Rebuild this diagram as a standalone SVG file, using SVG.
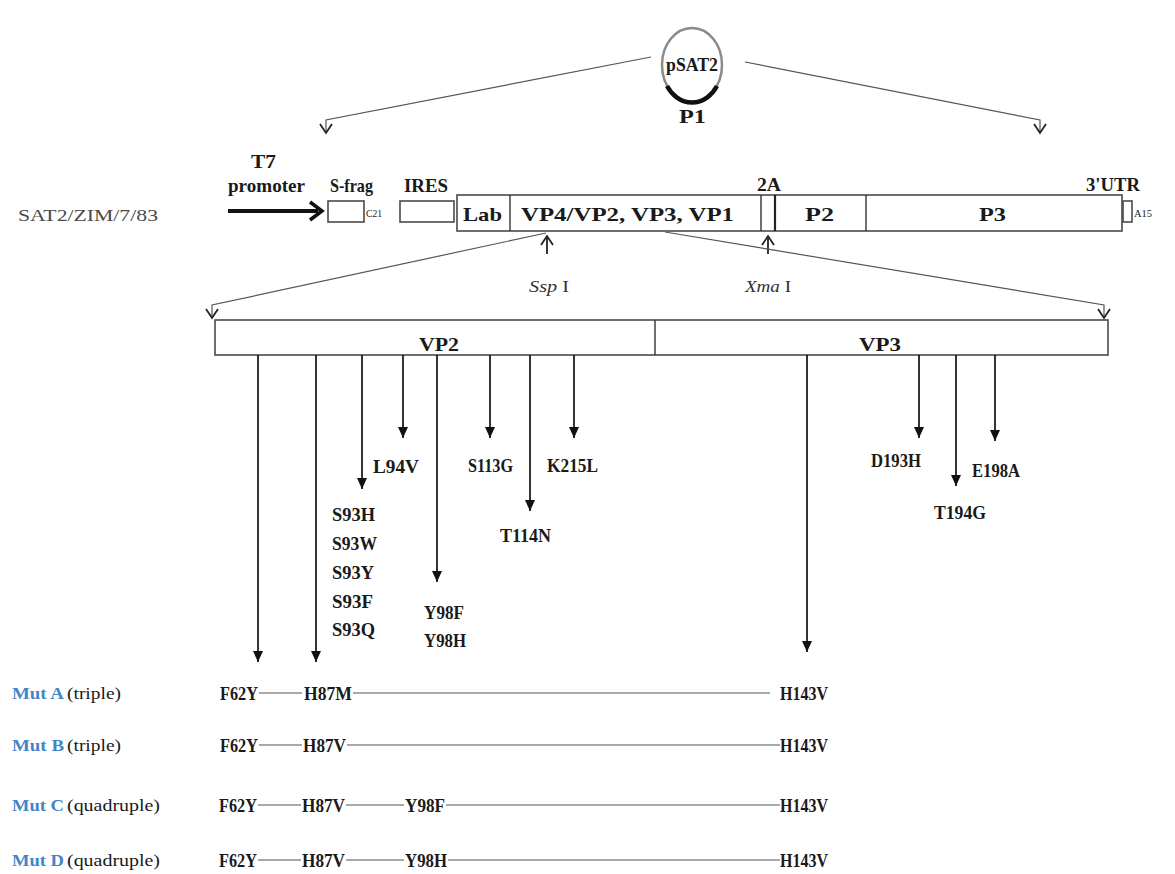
<svg xmlns="http://www.w3.org/2000/svg" width="1175" height="874" viewBox="0 0 1175 874">
<style>
text{font-family:"Liberation Serif","Times New Roman",serif;fill:#1a1a1a}
.b{font-weight:bold;font-size:19px}
.s{font-weight:bold;font-size:18px}
.r{font-size:16px}
.t{font-size:10px}
.m{fill:#4285c8;font-weight:bold;font-size:16px}
.box{fill:#fff;stroke:#4a4a4a;stroke-width:1.6}
.ln{fill:none;stroke:#333;stroke-width:1.4}
.ar{fill:none;stroke:#111;stroke-width:1.7}
.th{fill:none;stroke:#555;stroke-width:1.2}
.up{fill:none;stroke:#222;stroke-width:1.8}
</style>
<defs>
<marker id="open" markerUnits="userSpaceOnUse" viewBox="-11 -7 13 14" markerWidth="13" markerHeight="14" refX="0" refY="0" orient="auto">
<path d="M-9,-6 L0,0 L-9,6" fill="none" stroke="#222" stroke-width="1.8"/>
</marker>
<marker id="solid" markerUnits="userSpaceOnUse" viewBox="-12 -6 13 12" markerWidth="13" markerHeight="12" refX="0" refY="0" orient="auto">
<path d="M-11,-5 L0,0 L-11,5 Z" fill="#111"/>
</marker>
</defs>

<g id="plasmid">
<ellipse cx="692" cy="65" rx="30" ry="37" fill="#fff" stroke="#8a8a8a" stroke-width="2.5"/>
<path d="M667,86 A30,37 0 0,0 717,86" fill="none" stroke="#111" stroke-width="4.5"/>
<text class="s" x="666" y="71" textLength="52" lengthAdjust="spacingAndGlyphs">pSAT2</text>
<text class="b" x="679" y="123" textLength="27" lengthAdjust="spacingAndGlyphs">P1</text>
</g>

<g id="construct">
<text class="r" x="18" y="221" style="fill:#4a4a4a" textLength="140" lengthAdjust="spacingAndGlyphs">SAT2/ZIM/7/83</text>
<text class="b" x="251" y="168" textLength="25" lengthAdjust="spacingAndGlyphs">T7</text>
<text class="b" x="228" y="192" textLength="77" lengthAdjust="spacingAndGlyphs">promoter</text>
<line x1="228" y1="211" x2="318" y2="211" stroke="#111" stroke-width="4"/>
<path d="M310,202 L322,211 L310,220" fill="none" stroke="#111" stroke-width="3.5"/>
<rect class="box" x="328" y="201" width="36" height="21"/>
<text class="b" x="330" y="192" textLength="43" lengthAdjust="spacingAndGlyphs">S-frag</text>
<text class="t" x="366" y="217" textLength="16" lengthAdjust="spacingAndGlyphs">C21</text>
<rect class="box" x="400" y="201" width="54" height="21"/>
<text class="b" x="404" y="192" textLength="44" lengthAdjust="spacingAndGlyphs">IRES</text>
<rect class="box" x="457" y="195" width="665" height="36"/>
<line class="ln" x1="510" y1="195" x2="510" y2="231"/>
<line class="ln" x1="761" y1="195" x2="761" y2="231"/>
<line x1="775" y1="195" x2="775" y2="231" stroke="#222" stroke-width="2.2"/>
<line class="ln" x1="866" y1="195" x2="866" y2="231"/>
<rect class="box" x="1123" y="201" width="9" height="21"/>
<text class="b" x="463" y="221" textLength="39" lengthAdjust="spacingAndGlyphs">Lab</text>
<text class="b" x="521" y="221" textLength="213" lengthAdjust="spacingAndGlyphs">VP4/VP2, VP3, VP1</text>
<text class="s" x="757" y="191" textLength="24" lengthAdjust="spacingAndGlyphs">2A</text>
<text class="b" x="805" y="221" textLength="29" lengthAdjust="spacingAndGlyphs">P2</text>
<text class="b" x="979" y="221" textLength="27" lengthAdjust="spacingAndGlyphs">P3</text>
<text class="s" x="1086" y="191" textLength="54" lengthAdjust="spacingAndGlyphs">3'UTR</text>
<text class="t" x="1134" y="217" textLength="18" lengthAdjust="spacingAndGlyphs">A15</text>
<text x="529" y="292" style="font-size:17px;fill:#333" textLength="40" lengthAdjust="spacingAndGlyphs"><tspan font-style="italic">Ssp</tspan> I</text>
<text x="745" y="292" style="font-size:17px;fill:#333" textLength="46" lengthAdjust="spacingAndGlyphs"><tspan font-style="italic">Xma</tspan> I</text>
</g>

<g id="capsid">
<rect class="box" x="215" y="320" width="893" height="35"/>
<line class="ln" x1="655" y1="320" x2="655" y2="355"/>
<text class="b" x="419" y="351" textLength="40" lengthAdjust="spacingAndGlyphs">VP2</text>
<text class="b" x="859" y="351" textLength="42" lengthAdjust="spacingAndGlyphs">VP3</text>
</g>

<g id="connectors">
<path class="th" d="M651,57 L326,120 L326,133" marker-end="url(#open)"/>
<path class="th" d="M745,62 L1040,120 L1040,133" marker-end="url(#open)"/>
<path class="up" d="M547,254 L547,236" marker-end="url(#open)"/>
<path class="up" d="M768,254 L768,236" marker-end="url(#open)"/>
<path class="th" d="M546,233 L212,305 L212,318" marker-end="url(#open)"/>
<path class="th" d="M665,232 L1104,305 L1104,318" marker-end="url(#open)"/>
<g class="ar" marker-end="url(#solid)">
<path d="M258,355 V662"/>
<path d="M316,355 V662"/>
<path d="M362,355 V489"/>
<path d="M403,355 V438"/>
<path d="M437,355 V582"/>
<path d="M490,355 V438"/>
<path d="M530,355 V511"/>
<path d="M574,355 V438"/>
<path d="M807,355 V652"/>
<path d="M919,355 V438"/>
<path d="M956,355 V486"/>
<path d="M995,355 V441"/>
</g>
</g>

<g id="mutations">
<text class="b" x="373" y="473" textLength="46" lengthAdjust="spacingAndGlyphs">L94V</text>
<text class="b" x="468" y="472" textLength="45" lengthAdjust="spacingAndGlyphs">S113G</text>
<text class="b" x="547" y="472" textLength="51" lengthAdjust="spacingAndGlyphs">K215L</text>
<text class="b" x="871" y="467" textLength="50" lengthAdjust="spacingAndGlyphs">D193H</text>
<text class="b" x="972" y="477" textLength="48" lengthAdjust="spacingAndGlyphs">E198A</text>
<text class="b" x="934" y="519" textLength="52" lengthAdjust="spacingAndGlyphs">T194G</text>
<text class="b" x="500" y="542" textLength="51" lengthAdjust="spacingAndGlyphs">T114N</text>
<text class="b" x="332" y="521" textLength="43" lengthAdjust="spacingAndGlyphs">S93H</text>
<text class="b" x="332" y="550" textLength="45" lengthAdjust="spacingAndGlyphs">S93W</text>
<text class="b" x="332" y="579" textLength="42" lengthAdjust="spacingAndGlyphs">S93Y</text>
<text class="b" x="332" y="608" textLength="41" lengthAdjust="spacingAndGlyphs">S93F</text>
<text class="b" x="332" y="636" textLength="43" lengthAdjust="spacingAndGlyphs">S93Q</text>
<text class="b" x="424" y="619" textLength="40" lengthAdjust="spacingAndGlyphs">Y98F</text>
<text class="b" x="424" y="647" textLength="42" lengthAdjust="spacingAndGlyphs">Y98H</text>
</g>

<g id="mutA">
<text class="m" x="12" y="699" textLength="52" lengthAdjust="spacingAndGlyphs">Mut A</text>
<text class="r" x="67" y="699" textLength="54" lengthAdjust="spacingAndGlyphs">(triple)</text>
<text class="b" x="220" y="700" textLength="38" lengthAdjust="spacingAndGlyphs">F62Y</text>
<text class="b" x="304" y="700" textLength="48" lengthAdjust="spacingAndGlyphs">H87M</text>
<text class="b" x="780" y="700" textLength="48" lengthAdjust="spacingAndGlyphs">H143V</text>
<path class="th" d="M259,693 H302 M353,693 H770"/>
</g>
<g id="mutB">
<text class="m" x="12" y="751" textLength="52" lengthAdjust="spacingAndGlyphs">Mut B</text>
<text class="r" x="67" y="751" textLength="54" lengthAdjust="spacingAndGlyphs">(triple)</text>
<text class="b" x="220" y="752" textLength="38" lengthAdjust="spacingAndGlyphs">F62Y</text>
<text class="b" x="303" y="752" textLength="43" lengthAdjust="spacingAndGlyphs">H87V</text>
<text class="b" x="780" y="752" textLength="48" lengthAdjust="spacingAndGlyphs">H143V</text>
<path class="th" d="M259,745 H302 M347,745 H780"/>
</g>
<g id="mutC">
<text class="m" x="12" y="811" textLength="52" lengthAdjust="spacingAndGlyphs">Mut C</text>
<text class="r" x="67" y="811" textLength="93" lengthAdjust="spacingAndGlyphs">(quadruple)</text>
<text class="b" x="219" y="812" textLength="38" lengthAdjust="spacingAndGlyphs">F62Y</text>
<text class="b" x="302" y="812" textLength="43" lengthAdjust="spacingAndGlyphs">H87V</text>
<text class="b" x="405" y="812" textLength="40" lengthAdjust="spacingAndGlyphs">Y98F</text>
<text class="b" x="780" y="812" textLength="48" lengthAdjust="spacingAndGlyphs">H143V</text>
<path class="th" d="M258,805 H301 M346,805 H404 M446,805 H780"/>
</g>
<g id="mutD">
<text class="m" x="12" y="866" textLength="52" lengthAdjust="spacingAndGlyphs">Mut D</text>
<text class="r" x="67" y="866" textLength="93" lengthAdjust="spacingAndGlyphs">(quadruple)</text>
<text class="b" x="219" y="867" textLength="38" lengthAdjust="spacingAndGlyphs">F62Y</text>
<text class="b" x="302" y="867" textLength="43" lengthAdjust="spacingAndGlyphs">H87V</text>
<text class="b" x="405" y="867" textLength="42" lengthAdjust="spacingAndGlyphs">Y98H</text>
<text class="b" x="780" y="867" textLength="48" lengthAdjust="spacingAndGlyphs">H143V</text>
<path class="th" d="M258,860 H301 M346,860 H404 M448,860 H780"/>
</g>
</svg>
